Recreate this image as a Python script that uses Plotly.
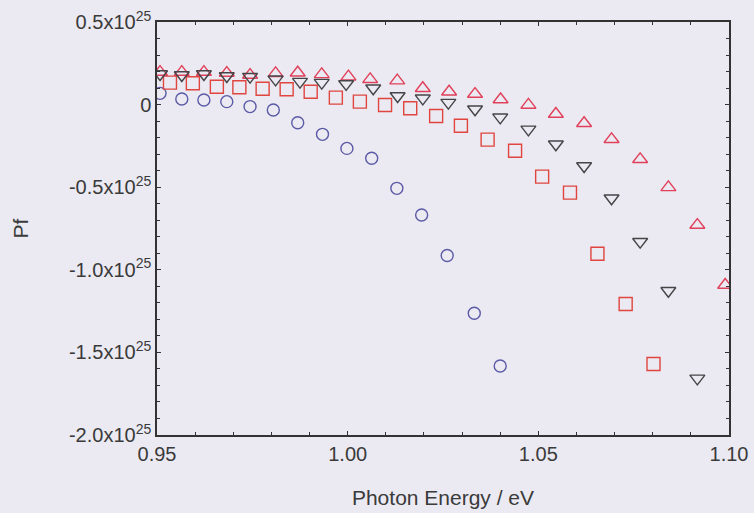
import plotly.graph_objects as go

# Photon energy (eV) and Pf (units of 1e25)
circ_x = [0.9508, 0.9565, 0.9623, 0.9683, 0.9744, 0.9805, 0.9869, 0.9934, 0.9998, 1.0063,
          1.0129, 1.0194, 1.0261, 1.0332, 1.0400]
circ_y = [0.068, 0.034, 0.028, 0.018, -0.012, -0.033, -0.110, -0.180, -0.265, -0.325,
          -0.507, -0.668, -0.913, -1.263, -1.582]

sq_x = [0.9534, 0.9594, 0.9657, 0.9716, 0.9777, 0.9840, 0.9903, 0.9969, 1.0032, 1.0098,
        1.0164, 1.0232, 1.0297, 1.0367, 1.0439, 1.0510, 1.0583, 1.0655, 1.0729, 1.0802]
sq_y = [0.133, 0.129, 0.108, 0.105, 0.096, 0.093, 0.078, 0.042, 0.018, -0.002,
        -0.022, -0.069, -0.128, -0.212, -0.279, -0.436, -0.533, -0.903, -1.207, -1.570]

up_x = [0.9508, 0.9565, 0.9623, 0.9683, 0.9744, 0.9811, 0.9869, 0.9932, 1.0002, 1.0059,
        1.0130, 1.0197, 1.0266, 1.0334, 1.0401, 1.0474, 1.0546, 1.0620, 1.0692, 1.0767,
        1.0841, 1.0917, 1.0990]
up_y = [0.197, 0.197, 0.197, 0.191, 0.179, 0.189, 0.193, 0.183, 0.169, 0.153,
        0.145, 0.099, 0.078, 0.064, 0.031, -0.002, -0.057, -0.113, -0.210, -0.331,
        -0.501, -0.729, -1.092]

dn_x = [0.9508, 0.9565, 0.9623, 0.9683, 0.9744, 0.9811, 0.9875, 0.9932, 0.9996, 1.0067,
        1.0131, 1.0197, 1.0264, 1.0334, 1.0400, 1.0474, 1.0546, 1.0620, 1.0692, 1.0767,
        1.0841, 1.0917]
dn_y = [0.185, 0.179, 0.185, 0.173, 0.169, 0.153, 0.139, 0.133, 0.125, 0.099,
        0.052, 0.038, 0.012, -0.028, -0.077, -0.150, -0.240, -0.372, -0.567, -0.830,
        -1.127, -1.657]

y_tickvals = [0.5, 0, -0.5, -1.0, -1.5, -2.0]
y_ticktext = ["0.5x10<sup>25</sup>", "0", "-0.5x10<sup>25</sup>", "-1.0x10<sup>25</sup>",
              "-1.5x10<sup>25</sup>", "-2.0x10<sup>25</sup>"]
x_tickvals = [0.95, 1.00, 1.05, 1.10]
x_ticktext = ["0.95", "1.00", "1.05", "1.10"]

BG = "#ebeaf2"
FONT = "Liberation Sans, Arial, sans-serif"
TXT = "#3a3a3a"
fig = go.Figure()

def add(x, y, symbol, color, size):
    fig.add_trace(go.Scatter(
        x=x, y=y, mode="markers", cliponaxis=True,
        marker=dict(symbol=symbol, size=size, color=color,
                    line=dict(color=color, width=1.4)),
        showlegend=False))

add(circ_x, circ_y, "circle-open", "#5b5aa6", 12)
add(sq_x, sq_y, "square-open", "#e0453f", 13)
add(up_x, up_y, "triangle-up-open", "#e0405a", 13)
add(dn_x, dn_y, "triangle-down-open", "#454548", 13)

axis_common = dict(showline=True, linecolor="#333333", linewidth=1.5, mirror="allticks",
                   ticks="inside", ticklen=4, tickcolor="#333333", showgrid=False,
                   zeroline=False, automargin=False,
                   tickfont=dict(family=FONT, size=20, color=TXT))

fig.update_xaxes(range=[0.95, 1.10], tickvals=x_tickvals, ticktext=x_ticktext,
                 minor=dict(dtick=0.01, ticks="inside", ticklen=3, tickcolor="#333333"),
                 title=dict(text="Photon Energy / eV", standoff=27,
                            font=dict(family=FONT, size=21, color=TXT)),
                 **axis_common)
fig.update_yaxes(range=[-2.0, 0.5], tickvals=y_tickvals, ticktext=y_ticktext,
                 minor=dict(dtick=0.1, ticks="inside", ticklen=3, tickcolor="#333333"),
                 title=dict(text="Pf", standoff=35,
                            font=dict(family=FONT, size=21, color=TXT)),
                 **axis_common)

fig.update_layout(width=754, height=513, paper_bgcolor=BG, plot_bgcolor=BG,
                  margin=dict(l=157, r=25, t=22, b=78))

fig.write_html("out.html")
